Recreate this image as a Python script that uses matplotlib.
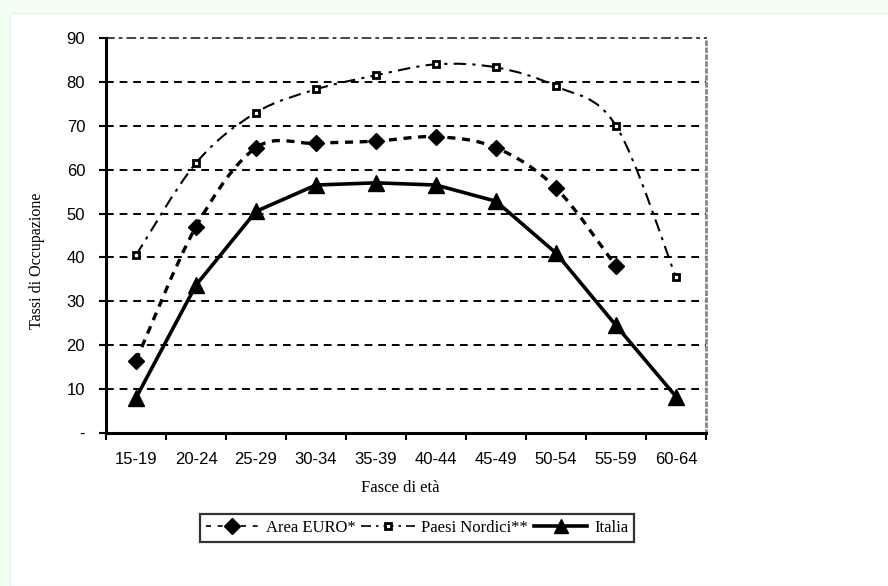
import numpy as np
import matplotlib
matplotlib.use("Agg")
from matplotlib import pyplot as plt
from matplotlib.path import Path
from matplotlib.patches import PathPatch, Rectangle
from matplotlib.lines import Line2D

# data
fasce = ['15-19', '20-24', '25-29', '30-34', '35-39', '40-44', '45-49', '50-54', '55-59', '60-64']
area_euro = [16.5, 47.0, 65.0, 66.0, 66.5, 67.5, 65.0, 55.8, 38.0, None]
paesi_nordici = [40.5, 61.5, 73.0, 78.3, 81.5, 84.0, 83.3, 79.0, 70.0, 35.5]
italia = [8.0, 33.7, 50.5, 56.5, 57.0, 56.5, 52.8, 41.0, 24.5, 8.3]
yticks = [0, 10, 20, 30, 40, 50, 60, 70, 80, 90]
ytick_labels = ['-', '10', '20', '30', '40', '50', '60', '70', '80', '90']


def smooth_path(xs, ys):
    # excel-like smoothed line: catmull-rom turned into cubic beziers
    pts = [(x, y) for x, y in zip(xs, ys) if y is not None]
    verts = [pts[0]]
    codes = [Path.MOVETO]
    for i in range(len(pts) - 1):
        p0 = pts[i - 1] if i > 0 else pts[i]
        p1, p2 = pts[i], pts[i + 1]
        p3 = pts[i + 2] if i + 2 < len(pts) else pts[i + 1]
        c1 = (p1[0] + (p2[0] - p0[0]) / 6, p1[1] + (p2[1] - p0[1]) / 6)
        c2 = (p2[0] - (p3[0] - p1[0]) / 6, p2[1] - (p3[1] - p1[1]) / 6)
        verts += [c1, c2, p2]
        codes += [Path.CURVE4] * 3
    return Path(verts, codes)


fig = plt.figure(figsize=(8.88, 5.86), dpi=100)
fig.patch.set_facecolor('#f2fff2')
fig.patches.append(Rectangle((10 / 888, 0), 1, 1 - 13 / 586, transform=fig.transFigure,
                             facecolor='white', edgecolor='#e6f5e6', lw=1, zorder=-5))

ax = fig.add_axes([106 / 888, 1 - 433 / 586, 600 / 888, 395 / 586])
ax.set_facecolor('white')
x = np.arange(len(fasce))

# gridlines
for v in yticks[1:-1]:
    ax.axhline(v, color='black', lw=1.4, ls=(0, (4, 3)), zorder=1)

sans = ['Liberation Sans', 'DejaVu Sans']
serif = ['Liberation Serif', 'DejaVu Serif']

# Area EURO
ax.add_patch(PathPatch(smooth_path(x, area_euro), fill=False, color='black', lw=2.4,
                       ls=(0, (2.4, 2.0)), zorder=3))
xe = [i for i, v in zip(x, area_euro) if v is not None]
ye = [v for v in area_euro if v is not None]
ax.plot(xe, ye, ls='none', marker='D', ms=8, color='black', zorder=5)

# Paesi Nordici
ax.add_patch(PathPatch(smooth_path(x, paesi_nordici), fill=False, color='black', lw=1.5,
                       ls=(0, (6, 3, 1.5, 3)), zorder=3))
ax.plot(x, paesi_nordici, ls='none', marker='s', ms=5, mfc='white', mec='black', mew=2,
        zorder=5)

# Italia
ax.plot(x, italia, color='black', lw=2.6, marker='^', ms=11, zorder=4)

ax.set_xlim(-0.5, len(fasce) - 0.5)
ax.set_ylim(0, 90)
ax.set_yticks(yticks)
ax.set_yticklabels(ytick_labels, fontfamily=sans, fontsize=12)
ax.set_xticks(x)
ax.set_xticklabels(fasce, fontfamily=sans, fontsize=12)
ax.tick_params(axis='x', length=0, pad=14)
ax.set_xticks(np.arange(-0.5, len(fasce), 1), minor=True)
ax.tick_params(axis='x', which='minor', length=5, width=1.5, direction='out')
ax.tick_params(axis='y', length=5, width=1.5, direction='out', pad=10)

for s in ['left', 'bottom']:
    ax.spines[s].set_linewidth(2.2)
    ax.spines[s].set_zorder(6)
ax.spines['right'].set_color('#888888')
ax.spines['right'].set_linestyle((0, (1, 1.5)))
ax.spines['right'].set_linewidth(2)
ax.spines['top'].set_color('#444444')
ax.spines['top'].set_linestyle((0, (4, 3, 1, 3)))
ax.spines['top'].set_linewidth(1.4)

ax.set_xlabel('Fasce di età', fontfamily=serif, fontsize=12)
ax.xaxis.set_label_coords((400 - 106) / 600, -(480 - 433) / 395)
ax.set_ylabel('Tassi di Occupazione', fontfamily=serif, fontsize=11.5)
ax.yaxis.set_label_coords((45 - 106) / 600, (433 - 261) / 395)

handles = [
    Line2D([], [], color='black', lw=1.2, ls=(0, (3, 4)), marker='D', ms=8),
    Line2D([], [], color='black', lw=1.2, ls=(0, (6, 3, 1.5, 3)), marker='s', ms=5,
           mfc='white', mec='black', mew=2),
    Line2D([], [], color='black', lw=2.6, marker='^', ms=10),
]
leg = fig.legend(handles, ['Area EURO*', 'Paesi Nordici**', 'Italia'], ncol=3,
                 loc='center', bbox_to_anchor=(417 / 888, 1 - 528 / 586),
                 prop={'family': serif, 'size': 12}, frameon=True, fancybox=False,
                 handlelength=3.2, handletextpad=0.4, columnspacing=0.35,
                 borderpad=0.35, borderaxespad=0)
leg.get_frame().set_edgecolor('black')
leg.get_frame().set_linewidth(1.6)

fig.savefig('out.png', dpi=100, facecolor=fig.get_facecolor())
